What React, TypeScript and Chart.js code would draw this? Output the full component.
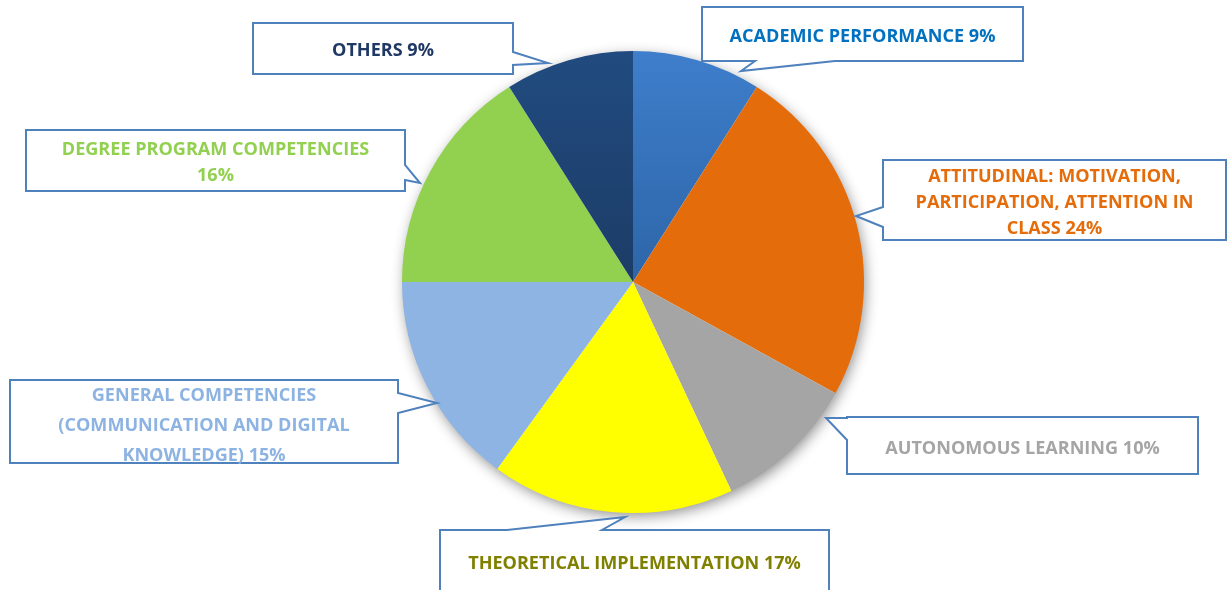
import React, { useEffect, useRef } from "react";
import { Chart, registerables } from "chart.js";

Chart.register(...registerables);

const categories = [
  "ACADEMIC PERFORMANCE",
  "ATTITUDINAL: MOTIVATION, PARTICIPATION, ATTENTION IN CLASS",
  "AUTONOMOUS LEARNING",
  "THEORETICAL IMPLEMENTATION",
  "GENERAL COMPETENCIES (COMMUNICATION AND DIGITAL KNOWLEDGE)",
  "DEGREE PROGRAM COMPETENCIES",
  "OTHERS",
];
const percentages = [9, 24, 10, 17, 15, 16, 9];
const sliceColors = ["#3b7bc8", "#e46c0a", "#a5a5a5", "#ffff00", "#8eb4e3", "#92d050", "#1f497d"];
const labelColors = ["#0070c0", "#e46c0a", "#a5a5a5", "#808000", "#8db3e2", "#92d050", "#1f3864"];

type Callout = {
  x: number; y: number; w: number; h: number;
  side: "top" | "bottom" | "left" | "right";
  b1: number; b2: number; tip: [number, number];
  wrap: number; lh: number; ty: number;
};
const callouts: Callout[] = [
  { x: 702, y: 7, w: 321, h: 54, side: "bottom", b1: 835, b2: 755, tip: [741, 71], wrap: 330, lh: 26, ty: 35 },
  { x: 883, y: 160, w: 343, h: 80, side: "left", b1: 207, b2: 227, tip: [856, 216], wrap: 285, lh: 26, ty: 175 },
  { x: 847, y: 417, w: 351, h: 57, side: "left", b1: 418, b2: 440, tip: [826, 418], wrap: 340, lh: 26, ty: 447 },
  { x: 440, y: 530, w: 389, h: 80, side: "top", b1: 507, b2: 602, tip: [625, 517], wrap: 370, lh: 26, ty: 562 },
  { x: 10, y: 380, w: 388, h: 83, side: "right", b1: 393, b2: 413, tip: [437, 403], wrap: 300, lh: 30, ty: 394 },
  { x: 26, y: 130, w: 379, h: 61, side: "right", b1: 165, b2: 180, tip: [420, 183], wrap: 320, lh: 26, ty: 148 },
  { x: 253, y: 23, w: 260, h: 51, side: "right", b1: 52, b2: 65, tip: [548, 63], wrap: 250, lh: 26, ty: 49 },
];

const FAMILY = "'Open Sans', Lato, sans-serif";
const REF_TEXT = "ACADEMIC PERFORMANCE 9%";
const REF_WIDTH = 266;
const TEXT_SHIFT = 2;

function wrapText(ctx: CanvasRenderingContext2D, text: string, maxW: number): string[] {
  const words = text.split(" ");
  const lines: string[] = [];
  let cur = "";
  for (const w of words) {
    const t = cur ? cur + " " + w : w;
    if (ctx.measureText(t).width > maxW && cur) {
      lines.push(cur);
      cur = w;
    } else cur = t;
  }
  if (cur) lines.push(cur);
  return lines;
}

const shadowPlugin = {
  id: "pieShadow",
  beforeDatasetsDraw(chart: any) {
    const arc = chart.getDatasetMeta(0).data[0];
    if (!arc) return;
    const { x, y, outerRadius } = arc;
    const ctx = chart.ctx;
    ctx.save();
    ctx.shadowColor = "rgba(0,0,0,0.45)";
    ctx.shadowBlur = 14;
    ctx.shadowOffsetX = 2;
    ctx.shadowOffsetY = 4;
    ctx.fillStyle = "#ffffff";
    ctx.beginPath();
    ctx.arc(x, y, outerRadius - 1, 0, Math.PI * 2);
    ctx.fill();
    ctx.restore();
  },
};

const calloutPlugin = {
  id: "callouts",
  afterDraw(chart: any) {
    const ctx = chart.ctx as CanvasRenderingContext2D;
    ctx.save();
    ctx.font = `bold 16px ${FAMILY}`;
    const size = (16 * REF_WIDTH) / ctx.measureText(REF_TEXT).width;
    callouts.forEach((c, i) => {
      const { x, y, w, h } = c;
      ctx.beginPath();
      ctx.moveTo(x, y);
      if (c.side === "top") {
        ctx.lineTo(c.b1, y);
        ctx.lineTo(c.tip[0], c.tip[1]);
        ctx.lineTo(c.b2, y);
      }
      ctx.lineTo(x + w, y);
      if (c.side === "right") {
        ctx.lineTo(x + w, c.b1);
        ctx.lineTo(c.tip[0], c.tip[1]);
        ctx.lineTo(x + w, c.b2);
      }
      ctx.lineTo(x + w, y + h);
      if (c.side === "bottom") {
        ctx.lineTo(c.b1, y + h);
        ctx.lineTo(c.tip[0], c.tip[1]);
        ctx.lineTo(c.b2, y + h);
      }
      ctx.lineTo(x, y + h);
      if (c.side === "left") {
        ctx.lineTo(x, c.b2);
        ctx.lineTo(c.tip[0], c.tip[1]);
        ctx.lineTo(x, c.b1);
      }
      ctx.closePath();
      ctx.fillStyle = "#ffffff";
      ctx.fill();
      ctx.lineWidth = 2;
      ctx.strokeStyle = "#4f81bd";
      ctx.lineJoin = "miter";
      ctx.stroke();

      ctx.font = `bold ${size.toFixed(2)}px ${FAMILY}`;
      ctx.fillStyle = labelColors[i];
      ctx.textAlign = "center";
      ctx.textBaseline = "middle";
      const text = `${categories[i]} ${percentages[i]}%`;
      const lines = wrapText(ctx, text, c.wrap);
      lines.forEach((ln, k) => {
        ctx.fillText(ln, x + w / 2, c.ty + TEXT_SHIFT + k * c.lh);
      });
    });
    ctx.restore();
  },
};

export default function App() {
  const ref = useRef<HTMLCanvasElement | null>(null);
  useEffect(() => {
    document.body.style.margin = "0";
    const canvas = ref.current!;
    const chart = new Chart(canvas, {
      type: "pie",
      data: {
        labels: categories,
        datasets: [
          {
            data: percentages,
            backgroundColor: (ctx: any) => {
              const i = ctx.dataIndex;
              const base = sliceColors[i];
              const area = ctx.chart.chartArea;
              if (!area) return base;
              if (i === 0 || i === 6) {
                const g = ctx.chart.ctx.createLinearGradient(0, area.top, 0, (area.top + area.bottom) / 2);
                if (i === 0) {
                  g.addColorStop(0, "#3e7ecb");
                  g.addColorStop(1, "#2d65a8");
                } else {
                  g.addColorStop(0, "#214b80");
                  g.addColorStop(1, "#1c3c66");
                }
                return g;
              }
              return base;
            },
            borderWidth: 0,
          },
        ],
      },
      options: {
        responsive: false,
        animation: false,
        layout: { padding: { left: 402, right: 364, top: 51, bottom: 77 } },
        plugins: {
          legend: { display: false },
          tooltip: { enabled: false },
          title: { display: false },
        },
      },
      plugins: [shadowPlugin, calloutPlugin],
    });
    return () => chart.destroy();
  }, []);
  return (
    <div style={{ width: 1228, height: 590, background: "#ffffff" }}>
      <canvas ref={ref} width={1228} height={590} />
    </div>
  );
}
